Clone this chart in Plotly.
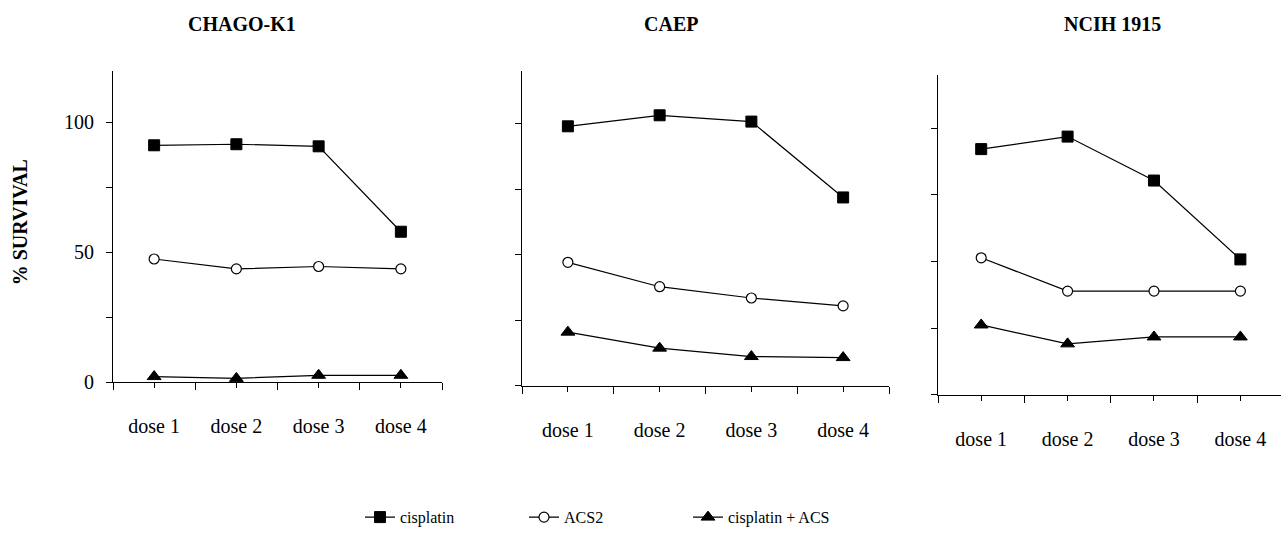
import plotly.graph_objects as go

doses = ["dose 1", "dose 2", "dose 3", "dose 4"]
panels = ["CHAGO-K1", "CAEP", "NCIH 1915"]
series_names = ["cisplatin", "ACS2", "cisplatin + ACS"]

cisplatin = [
    [91.2, 91.6, 90.8, 57.9],
    [98.9, 103.1, 100.7, 71.8],
    [92.2, 96.9, 80.4, 50.8],
]
acs2 = [
    [47.4, 43.6, 44.5, 43.6],
    [47.1, 37.8, 33.5, 30.5],
    [51.4, 38.9, 38.9, 38.9],
]
combo = [
    [2.1, 1.4, 2.6, 2.6],
    [20.5, 14.4, 11.2, 10.8],
    [26.2, 19.1, 21.7, 21.7],
]

y_tickvals = [0, 25, 50, 75, 100]
y_ticktext = ["0", "", "50", "", "100"]

W, H = 1281, 538
FONT = "Liberation Serif, Times New Roman, serif"

x_dom = [[113 / W, 442 / W], [522 / W, 889 / W], [938 / W, 1.0]]
y_dom = [[1 - 390 / H, 1 - 72 / H], [1 - 394 / H, 1 - 72.4 / H], [1 - 403 / H, 1 - 76.6 / H]]
x_ranges = [[-0.5, 3.5], [-0.5, 3.5], [-0.5, 3.47]]
title_x = [242, 671, 1112]

styles = [
    dict(symbol="square", size=11, color="black", line=dict(color="black", width=1)),
    dict(symbol="circle", size=10, color="white", line=dict(color="black", width=1.2)),
    dict(symbol="triangle-up", size=12, color="black", line=dict(color="black", width=1)),
]

fig = go.Figure()
xs = list(range(len(doses)))
for p in range(3):
    xa = "x" if p == 0 else f"x{p + 1}"
    ya = "y" if p == 0 else f"y{p + 1}"
    for s, data in enumerate([cisplatin, acs2, combo]):
        fig.add_trace(go.Scatter(
            x=xs, y=data[p], mode="lines+markers",
            name=series_names[s], legendgroup=series_names[s],
            showlegend=(p == 0),
            line=dict(color="black", width=1.2),
            marker=styles[s],
            xaxis=xa, yaxis=ya, cliponaxis=False,
        ))

layout = dict(
    width=W, height=H,
    margin=dict(l=0, r=0, t=0, b=0),
    paper_bgcolor="white", plot_bgcolor="white",
    font=dict(family=FONT, size=20, color="black"),
    showlegend=True,
    legend=dict(orientation="h", x=360 / W, xanchor="left", y=1 - 528 / H, yanchor="middle",
                font=dict(family=FONT, size=16, color="black"),
                entrywidth=119, entrywidthmode="pixels", bgcolor="rgba(0,0,0,0)",
                itemclick=False, itemdoubleclick=False),
)
for p in range(3):
    sx = "xaxis" if p == 0 else f"xaxis{p + 1}"
    sy = "yaxis" if p == 0 else f"yaxis{p + 1}"
    ya = "y" if p == 0 else f"y{p + 1}"
    xa = "x" if p == 0 else f"x{p + 1}"
    layout[sx] = dict(
        domain=x_dom[p], range=x_ranges[p], anchor=ya,
        tickmode="array", tickvals=xs, ticktext=doses,
        ticks="outside", ticklen=5, tickwidth=1, tickcolor="black",
        minor=dict(tickmode="linear", tick0=-0.5, dtick=1, ticks="outside", ticklen=7,
                   tickwidth=1, tickcolor="black", showgrid=False),
        showline=True, linecolor="black", linewidth=1,
        showgrid=False, zeroline=False, fixedrange=True,
        tickfont=dict(family=FONT, size=20, color="black"),
        ticklabelstandoff=21,
    )
    layout[sy] = dict(
        domain=y_dom[p], range=[0, 120], anchor=xa,
        tickmode="array", tickvals=y_tickvals,
        ticktext=y_ticktext if p == 0 else [""] * len(y_tickvals),
        ticks="outside", ticklen=6, tickwidth=1, tickcolor="black",
        showline=True, linecolor="black", linewidth=1,
        showgrid=False, zeroline=False, fixedrange=True,
        tickfont=dict(family=FONT, size=20, color="black"),
        ticklabelstandoff=8,
    )
fig.update_layout(**layout)

for p in range(3):
    fig.add_annotation(text=f"<b>{panels[p]}</b>", x=title_x[p] / W, y=1 - 25 / H,
                       xref="paper", yref="paper", showarrow=False,
                       font=dict(family=FONT, size=20, color="black"),
                       xanchor="center", yanchor="middle")

fig.add_annotation(text="<b>% SURVIVAL</b>", x=20 / W, y=1 - 227 / H,
                   xref="paper", yref="paper", showarrow=False, textangle=-90,
                   font=dict(family=FONT, size=20, color="black"),
                   xanchor="center", yanchor="middle")

fig.write_html("out.html")
